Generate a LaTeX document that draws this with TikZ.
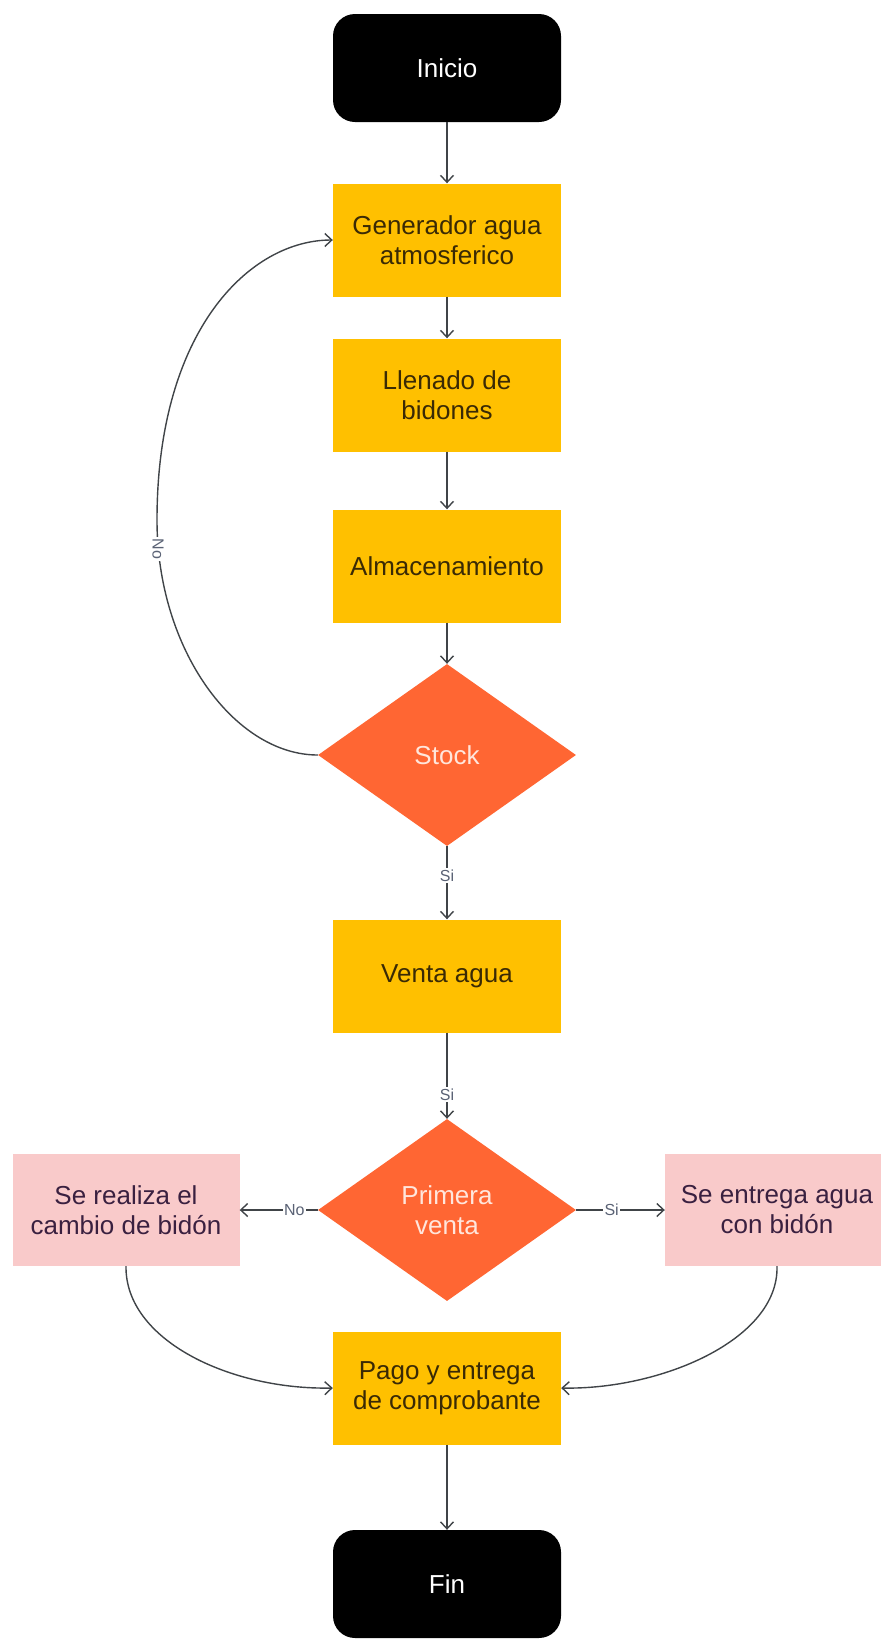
\documentclass[tikz,border=0pt]{standalone}
\usepackage{fontspec}
\setmainfont{Liberation Sans}
\usetikzlibrary{shapes.geometric,arrows.meta}
\definecolor{boxyellow}{HTML}{FFC000}
\definecolor{dia}{HTML}{FF6633}
\definecolor{pinkbox}{HTML}{F9CACA}
\definecolor{linecol}{HTML}{404448}
\definecolor{labcol}{HTML}{5A6275}
\definecolor{ytext}{HTML}{3A2A05}
\definecolor{ptext}{HTML}{3A2040}
\definecolor{dtext}{HTML}{FFE6DC}
\tikzset{
  txt/.style={font=\fontsize{26}{30}\selectfont, align=center},
  term/.style={txt, rectangle, rounded corners=22pt, fill=black, text=white, minimum width=228pt, minimum height=108pt, inner sep=0pt},
  proc/.style={txt, rectangle, fill=boxyellow, text=ytext, minimum width=228pt, minimum height=113pt, inner sep=0pt},
  pinkproc/.style={txt, rectangle, fill=pinkbox, text=ptext, minimum height=112pt, inner sep=0pt},
  decision/.style={txt, diamond, fill=dia, text=dtext, minimum width=258pt, minimum height=182pt, inner sep=0pt},
  conn/.style={draw=linecol, line width=1.4pt, -{Straight Barb[length=7pt,width=13pt,line width=1.4pt]}},
  lab/.style={font=\fontsize{16}{18}\selectfont, text=labcol, fill=white, inner sep=1.5pt}
}
\begin{document}
\begin{tikzpicture}[x=1pt,y=-1pt]
\useasboundingbox (0,0) rectangle (881,1639);
\clip (0,0) rectangle (881,1639);
\node[term] (inicio) at (447,68) {Inicio};
\node[proc] (gen) at (447,240) {Generador agua\\atmosferico};
\node[proc] (llen) at (447,395) {Llenado de\\bidones};
\node[proc] (alm) at (447,566) {Almacenamiento};
\node[decision] (stock) at (447,755) {Stock};
\node[proc] (venta) at (447,976) {Venta agua};
\node[decision] (prim) at (447,1210) {Primera\\venta};
\node[pinkproc, minimum width=227pt] (real) at (126,1210) {Se realiza el\\cambio de bidón};
\node[pinkproc, minimum width=224pt] (entr) at (777,1210) {Se entrega agua\\con bidón};
\node[proc] (pago) at (447,1388) {Pago y entrega\\de comprobante};
\node[term] (fin) at (447,1584) {Fin};

\draw[conn] (inicio) -- (gen);
\draw[conn] (gen) -- (llen);
\draw[conn] (llen) -- (alm);
\draw[conn] (alm) -- (stock.north);
\draw[conn] (stock.south) -- node[lab, pos=0.4] {Si} (venta.north);
\draw[conn] (venta.south) -- node[lab, pos=0.72] {Si} (prim.north);
\draw[conn] (prim.west) -- node[lab, pos=0.3] {No} (real.east);
\draw[conn] (prim.east) -- node[lab, pos=0.4] {Si} (entr.west);
\draw[conn] (stock.west) .. controls (235,755) and (157,650) .. (157,520)
  .. controls (157,330) and (250,240) .. (gen.west);
\node[lab, rotate=-90] (nolab) at (158,549) {No};
\draw[conn] (real.south) .. controls (125,1340) and (230,1390) .. (pago.west);
\draw[conn] (entr.south) .. controls (779,1340) and (660,1390) .. (pago.east);
\draw[conn] (pago) -- (fin);
\end{tikzpicture}
\end{document}
